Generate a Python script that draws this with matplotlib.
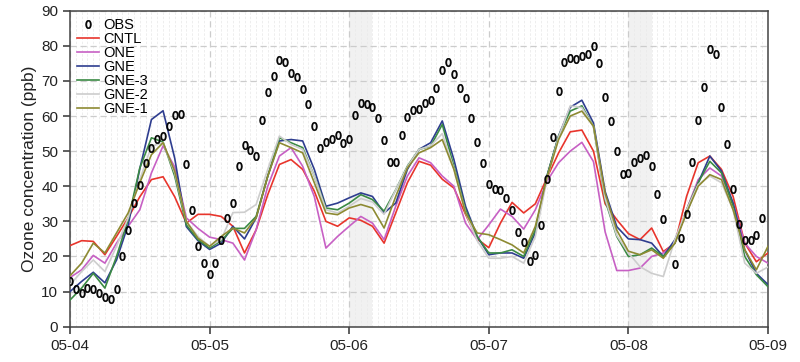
import numpy as np
import matplotlib
matplotlib.use("Agg")
import matplotlib.pyplot as plt

plt.rcParams['font.family'] = ['Liberation Sans', 'DejaVu Sans']

nan = np.nan

# model output every 2 hours, starting 05-04 00:00
model_hours = list(range(0, 121, 2))

cntl = [23.1, 24.5, 24.3, 20.5, 25.7, 31.0, 37.0, 41.9, 42.7, 37.0, 29.5, 32.0, 32.0,
        31.4, 28.6, 21.0, 27.6, 37.6, 46.2, 47.6, 44.8, 38.6, 30.0, 28.6, 31.0,
        30.3, 28.6, 23.8, 32.4, 41.0, 47.1, 46.0, 42.0, 39.5, 32.0, 25.0, 22.5,
        29.5, 35.4, 32.4, 35.0, 42.4, 49.5, 55.5, 56.0, 50.0, 35.0, 30.5, 26.5,
        24.8, 28.1, 21.4, 23.8, 37.1, 46.7, 48.6, 44.8, 37.1, 23.8, 18.5, 21.0]

one = [14.0, 16.2, 20.3, 18.1, 23.8, 28.6, 33.3, 43.8, 51.5, 45.5, 31.0, 28.0, 25.5,
       24.8, 23.8, 19.0, 27.6, 40.0, 48.6, 51.0, 45.7, 37.1, 22.4, 25.7, 28.6,
       31.4, 29.5, 24.8, 34.3, 42.9, 48.1, 46.7, 42.9, 40.0, 29.5, 24.8, 29.0,
       33.5, 31.4, 27.8, 33.3, 41.4, 46.7, 50.0, 52.5, 47.0, 27.0, 16.0, 16.0,
       16.7, 20.0, 21.0, 23.8, 33.3, 41.9, 45.2, 42.9, 35.2, 23.8, 20.0, 18.1]

gne = [10.0, 12.9, 15.5, 12.5, 19.0, 29.0, 45.0, 59.0, 61.5, 48.0, 28.5, 24.5, 22.0,
       23.8, 28.6, 25.0, 31.0, 42.9, 52.9, 53.3, 52.9, 44.8, 34.3, 35.2, 36.7,
       38.1, 37.1, 32.4, 35.2, 44.8, 50.5, 52.4, 58.6, 47.6, 34.3, 25.7, 20.5,
       21.0, 21.0, 19.5, 26.7, 42.9, 54.3, 62.5, 64.5, 58.0, 38.5, 28.5, 25.0,
       24.8, 23.8, 20.0, 24.8, 32.4, 41.0, 48.6, 44.3, 35.2, 21.9, 15.2, 12.0]

gne3 = [7.6, 11.0, 15.2, 11.0, 20.0, 30.5, 45.2, 53.8, 52.6, 42.9, 29.0, 24.8, 22.4,
        24.5, 28.0, 28.0, 31.4, 42.9, 53.8, 52.4, 51.0, 42.9, 33.8, 33.3, 35.2,
        37.6, 36.2, 32.9, 39.0, 45.7, 50.5, 51.4, 57.6, 45.7, 33.3, 25.7, 21.0,
        21.0, 21.9, 20.0, 27.6, 42.9, 54.3, 61.4, 62.9, 57.0, 36.0, 25.7, 20.0,
        20.5, 22.4, 20.0, 23.8, 33.3, 41.0, 47.1, 43.8, 34.3, 20.0, 14.8, 11.4]

gne2 = [11.9, 15.7, 19.0, 15.7, 22.9, 31.0, 41.9, 51.4, 52.4, 43.8, 30.0, 25.7, 22.9,
        24.8, 32.5, 32.6, 34.8, 44.8, 54.3, 51.9, 50.5, 42.9, 33.3, 32.4, 34.3,
        36.5, 35.5, 32.0, 39.0, 45.5, 50.5, 51.5, 55.0, 45.0, 32.5, 24.5, 19.5,
        19.5, 20.0, 18.1, 25.7, 42.0, 54.0, 62.9, 62.4, 57.0, 36.5, 26.0, 21.0,
        17.1, 15.2, 14.3, 24.8, 33.3, 40.5, 42.9, 41.0, 33.3, 18.1, 15.2, 17.0]

gne1 = [14.5, 18.1, 23.8, 21.0, 26.7, 32.4, 41.0, 49.0, 52.4, 44.3, 30.0, 25.2, 22.9,
        25.7, 28.1, 26.7, 31.0, 42.9, 52.4, 51.0, 49.5, 41.0, 32.4, 31.9, 33.8,
        34.8, 33.8, 28.1, 37.1, 45.2, 49.5, 51.0, 53.3, 44.8, 32.4, 26.7, 26.2,
        24.8, 23.3, 21.0, 28.6, 42.5, 53.3, 60.0, 61.4, 57.1, 38.0, 27.5, 21.5,
        20.5, 21.9, 19.5, 23.8, 32.4, 40.0, 43.3, 41.9, 33.3, 21.9, 16.2, 22.9]

# hourly observations
obs_hours = list(range(0, 121))
obs = [13.0, 10.7, 9.6, 11.1, 10.7, 9.7, 8.6, 7.8, 10.8, 20.2, 27.6, 35.2, 40.3,
       46.5, 51.0, 53.4, 54.3, 57.2, 60.2, 60.5, 46.4, 33.3, 22.9, 18.2, 15.1,
       18.1, 24.8, 31.0, 35.2, 45.7, 51.8, 50.3, 48.6, 59.0, 66.7, 71.3, 76.0,
       75.3, 72.3, 71.0, 67.8, 63.5, 57.1, 51.0, 52.6, 53.5, 54.5, 52.2, 53.5,
       60.2, 63.8, 63.3, 62.7, 59.5, 53.2, 46.9, 46.9, 54.6, 59.8, 61.7, 62.1,
       63.8, 64.6, 68.1, 73.1, 75.5, 71.9, 68.1, 65.0, 59.5, 52.7, 46.7, 40.5,
       39.1, 38.8, 36.7, 33.1, 27.1, 24.1, 18.6, 20.5, 29.1, 42.1, 54.1, 67.0,
       75.5, 76.4, 76.2, 77.1, 77.6, 80.0, 75.2, 65.5, 58.6, 50.0, 43.5, 43.8,
       47.0, 48.1, 49.0, 45.7, 37.9, 30.7, nan, 17.9, 25.4, 32.0, 46.9, 59.0,
       68.4, 79.0, 77.8, 62.6, 52.0, 39.3, 29.3, 24.8, 24.6, 26.1, 30.9, nan]

day_labels = ['05-04', '05-05', '05-06', '05-07', '05-08', '05-09']
shaded = [(48, 52), (96, 100)]

series = [
    ('CNTL', cntl, '#e8352c'),
    ('ONE', one, '#c760c4'),
    ('GNE', gne, '#2e3d8f'),
    ('GNE-3', gne3, '#3b8a44'),
    ('GNE-2', gne2, '#cdcdcd'),
    ('GNE-1', gne1, '#8d8a32'),
]

fig = plt.figure(figsize=(8, 3.62), dpi=100)
ax = fig.add_axes([0.0875, 0.0975, 0.8725, 0.873])

for a, b in shaded:
    ax.axvspan(a, b, color='#f1f1f1', zorder=0, lw=0)

# hourly minor grid, daily major grid
ax.set_xticks(range(0, 121), minor=True)
ax.grid(which='minor', axis='x', color='#ebebeb', lw=0.6, ls=(0, (3, 2)), zorder=0)
ax.grid(which='major', axis='both', color='#cccccc', lw=0.9, ls=(0, (5, 3)), zorder=0)
ax.set_axisbelow(True)

ax.plot(obs_hours, obs, ls='none', marker='$0$', ms=6, color='black',
        markeredgewidth=0.5, label='OBS', zorder=5)
for name, vals, col in series:
    ax.plot(model_hours, vals, color=col, lw=1.2, label=name, zorder=3)

ax.set_xlim(0, 120)
ax.set_ylim(0, 90)
ax.set_xticks(range(0, 121, 24))
ax.set_xticklabels(day_labels)
ax.set_yticks(range(0, 91, 10))
ax.tick_params(axis='both', which='major', direction='out', length=5, width=1.1,
               labelsize=11, colors='#333333', labelcolor='#222222')
ax.tick_params(axis='x', which='minor', length=0)
for s in ax.spines.values():
    s.set_color('#444444')
    s.set_linewidth(1.1)

ax.set_ylabel('Ozone concentration (ppb)', fontsize=12.5, color='#222222', labelpad=3)

leg = ax.legend(loc='upper left', frameon=False, fontsize=10.5, handlelength=1.5,
                handletextpad=0.3, labelspacing=0.0, borderaxespad=0.3,
                borderpad=0.2)

fig.savefig('out.png', dpi=100)
